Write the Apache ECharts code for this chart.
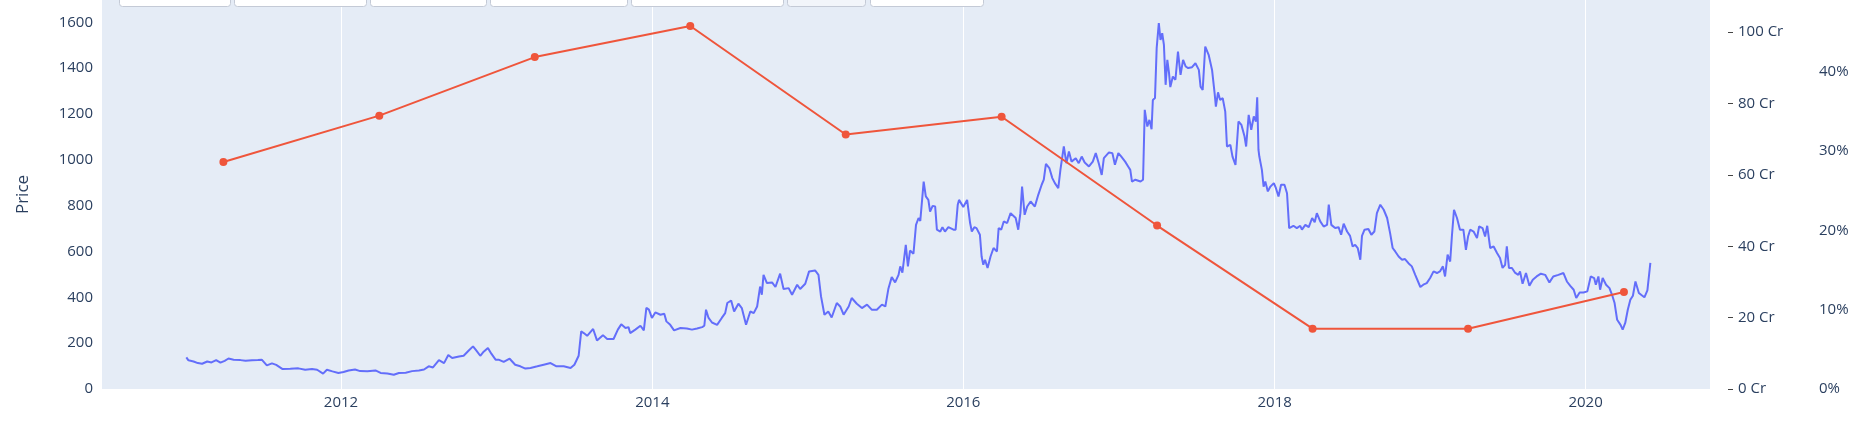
<!DOCTYPE html>
<html>
<head>
<meta charset="utf-8">
<script src="https://cdn.jsdelivr.net/npm/echarts@6/dist/echarts.min.js"></script>
<style>
html,body{margin:0;padding:0;background:#fff;}
#chart{width:1868px;height:424px;}
</style>
</head>
<body>
<div id="chart"></div>
<script>
// ---- data ----
const priceDates = [
'2011-01-03','2011-01-08','2011-01-20','2011-01-30','2011-02-09','2011-02-21','2011-03-03','2011-03-14','2011-03-24','2011-04-03','2011-04-12','2011-04-24','2011-05-10','2011-05-22','2011-06-06','2011-06-20','2011-06-29','2011-07-11','2011-07-23','2011-08-02','2011-08-17','2011-09-04','2011-09-23','2011-10-09','2011-10-25','2011-11-06','2011-11-20','2011-11-29','2011-12-12','2011-12-26',
'2012-01-07','2012-01-19','2012-02-03','2012-02-15','2012-03-03','2012-03-22','2012-04-03','2012-04-19','2012-05-04','2012-05-16','2012-06-01','2012-06-16','2012-07-02','2012-07-14','2012-07-25','2012-08-04','2012-08-18','2012-08-30','2012-09-09','2012-09-18','2012-10-04','2012-10-15','2012-10-27','2012-11-06','2012-11-14','2012-11-23','2012-12-01','2012-12-11','2012-12-19','2012-12-29',
'2013-01-05','2013-01-17','2013-01-31','2013-02-13','2013-02-25','2013-03-09','2013-03-21','2013-04-06','2013-04-21','2013-05-07','2013-05-21','2013-06-07','2013-06-23','2013-07-02','2013-07-12','2013-07-18','2013-07-24','2013-08-01','2013-08-15','2013-08-24','2013-09-07','2013-09-17','2013-10-02','2013-10-12','2013-10-20','2013-10-30','2013-11-06','2013-11-10','2013-11-22','2013-12-04','2013-12-12','2013-12-18','2013-12-24','2013-12-31',
'2014-01-08','2014-01-20','2014-01-29','2014-02-03','2014-02-12','2014-02-21','2014-03-08','2014-03-23','2014-04-04','2014-04-16','2014-04-28','2014-05-03','2014-05-07','2014-05-13','2014-05-21','2014-06-02','2014-06-13','2014-06-21','2014-06-26','2014-07-05','2014-07-12','2014-07-22','2014-07-30','2014-08-09','2014-08-19','2014-08-27','2014-09-04','2014-09-11','2014-09-15','2014-09-19','2014-09-27','2014-10-09','2014-10-17','2014-10-28','2014-11-05','2014-11-17','2014-11-25','2014-12-07','2014-12-14','2014-12-26',
'2015-01-04','2015-01-18','2015-01-26','2015-02-01','2015-02-09','2015-02-18','2015-02-26','2015-03-10','2015-03-18','2015-03-26','2015-04-07','2015-04-14','2015-04-26','2015-05-08','2015-05-20','2015-05-31','2015-06-12','2015-06-24','2015-07-02','2015-07-09','2015-07-17','2015-07-25','2015-08-02','2015-08-06','2015-08-11','2015-08-19','2015-08-24','2015-08-29','2015-09-06','2015-09-12','2015-09-18','2015-09-22','2015-09-30','2015-10-05','2015-10-11','2015-10-15','2015-10-21','2015-10-27','2015-10-31','2015-11-08','2015-11-13','2015-11-19','2015-11-27','2015-12-09','2015-12-14','2015-12-19','2015-12-22',
'2016-01-01','2016-01-05','2016-01-10','2016-01-17','2016-01-21','2016-01-27','2016-02-01','2016-02-09','2016-02-13','2016-02-17','2016-02-21','2016-02-27','2016-03-05','2016-03-12','2016-03-20','2016-03-24','2016-03-30','2016-04-05','2016-04-13','2016-04-21','2016-05-03','2016-05-09','2016-05-14','2016-05-18','2016-05-24','2016-05-30','2016-06-07','2016-06-17','2016-06-25','2016-07-03','2016-07-08','2016-07-13','2016-07-21','2016-07-28','2016-08-03','2016-08-11','2016-08-16','2016-08-24','2016-08-30','2016-09-05','2016-09-11','2016-09-21','2016-09-28','2016-10-05','2016-10-12','2016-10-22','2016-10-31','2016-11-07','2016-11-14','2016-11-21','2016-11-26','2016-12-08','2016-12-16','2016-12-22','2016-12-30',
'2017-01-06','2017-01-15','2017-01-22','2017-01-27','2017-01-31','2017-02-08','2017-02-20','2017-02-26','2017-03-02','2017-03-08','2017-03-13','2017-03-18','2017-03-21','2017-03-26','2017-03-30','2017-04-04','2017-04-08','2017-04-12','2017-04-16','2017-04-20','2017-04-24','2017-04-28','2017-05-01','2017-05-07','2017-05-13','2017-05-19','2017-05-25','2017-05-31','2017-06-06','2017-06-12','2017-06-21','2017-06-29','2017-07-07','2017-07-11','2017-07-16','2017-07-22','2017-07-30','2017-08-07','2017-08-13','2017-08-16','2017-08-21','2017-08-26','2017-09-01','2017-09-07','2017-09-11','2017-09-19','2017-09-24','2017-10-01','2017-10-08','2017-10-15','2017-10-22','2017-10-26','2017-11-01','2017-11-07','2017-11-13','2017-11-18','2017-11-21','2017-11-24','2017-11-26','2017-12-02','2017-12-06','2017-12-10','2017-12-16','2017-12-22','2017-12-30',
'2018-01-04','2018-01-10','2018-01-16','2018-01-24','2018-01-30','2018-02-04','2018-02-14','2018-02-22','2018-03-02','2018-03-06','2018-03-14','2018-03-22','2018-03-30','2018-04-05','2018-04-10','2018-04-18','2018-04-26','2018-05-04','2018-05-08','2018-05-14','2018-05-23','2018-05-31','2018-06-06','2018-06-12','2018-06-20','2018-06-27','2018-07-03','2018-07-09','2018-07-15','2018-07-21','2018-07-25','2018-07-31','2018-08-09','2018-08-16','2018-08-23','2018-08-29','2018-09-06','2018-09-14','2018-09-22','2018-09-29','2018-10-05','2018-10-11','2018-10-19','2018-10-27','2018-11-03','2018-11-11','2018-11-19','2018-11-27','2018-12-09','2018-12-16','2018-12-24',
'2019-01-01','2019-01-09','2019-01-17','2019-01-24','2019-01-31','2019-02-05','2019-02-11','2019-02-17','2019-02-21','2019-02-26','2019-03-05','2019-03-12','2019-03-20','2019-03-26','2019-03-31','2019-04-05','2019-04-13','2019-04-21','2019-04-26','2019-05-04','2019-05-10','2019-05-15','2019-05-22','2019-05-30','2019-06-07','2019-06-14','2019-06-20','2019-06-26','2019-06-30','2019-07-05','2019-07-12','2019-07-19','2019-07-27','2019-07-31','2019-08-06','2019-08-14','2019-08-22','2019-08-30','2019-09-08','2019-09-18','2019-09-28','2019-10-08','2019-10-17','2019-10-29','2019-11-10','2019-11-18','2019-11-26','2019-12-04','2019-12-10','2019-12-18','2019-12-27',
'2020-01-05','2020-01-13','2020-01-21','2020-01-25','2020-01-31','2020-02-04','2020-02-10','2020-02-18','2020-02-26','2020-03-03','2020-03-09','2020-03-15','2020-03-23','2020-03-28','2020-04-03','2020-04-09','2020-04-15','2020-04-21','2020-04-27','2020-05-05','2020-05-11','2020-05-18','2020-05-25','2020-06-01'
];
const priceValues = [
138,125,120,113,110,120,116,126,115,123,133,128,126,123,125,126,128,103,112,105,87,88,90,84,87,84,67,84,77,70,
74,81,85,78,77,81,70,68,62,70,71,78,81,85,99,94,126,113,148,135,142,145,168,186,167,145,163,179,154,128,
128,118,132,106,99,89,92,99,106,113,99,99,92,106,145,251,244,232,262,212,235,218,218,259,282,266,270,244,259,276,256,354,346,310,
334,324,328,295,280,256,266,264,259,264,270,276,346,310,290,280,310,331,375,386,338,372,353,280,338,331,360,447,411,498,462,465,445,503,436,440,411,455,436,459,
513,517,498,404,324,338,312,375,360,324,360,397,372,353,368,346,346,368,360,436,488,465,498,535,508,629,535,604,590,716,746,733,905,840,825,774,799,796,695,687,706,687,706,695,695,804,825,
794,796,825,724,687,706,702,673,578,542,564,528,578,615,600,702,695,731,724,767,746,695,767,883,760,796,818,796,847,891,913,982,964,920,898,876,956,1058,985,1036,992,1007,985,1014,988,971,992,1029,985,934,1007,1032,1029,978,1029,
1014,992,971,956,905,913,905,913,1218,1145,1174,1133,1261,1269,1487,1596,1523,1552,1501,1327,1436,1378,1317,1363,1349,1472,1370,1436,1407,1400,1404,1421,1392,1319,1305,1494,1458,1392,1291,1232,1294,1261,1269,1210,1058,1065,1014,978,1167,1152,1104,1058,1196,1131,1189,1167,1273,1043,1014,956,883,905,862,883,898,
876,840,891,891,854,702,712,702,712,695,716,706,746,727,767,731,709,716,804,716,702,706,673,721,687,668,622,629,615,564,668,695,698,673,687,767,804,782,746,680,615,600,578,564,567,549,535,498,445,455,462,
484,513,506,513,535,491,586,556,665,782,746,695,695,607,665,695,687,658,709,702,665,712,615,622,593,571,528,542,622,528,528,508,498,513,459,506,450,477,491,503,498,465,491,498,506,469,450,433,397,421,421,
426,491,484,455,491,433,484,455,440,411,375,302,280,259,288,346,389,407,469,419,410,400,430,550
];
const metricDates = ['2011-03-31','2012-03-31','2013-03-31','2014-03-31','2015-03-31','2016-03-31','2017-03-31','2018-03-31','2019-03-31','2020-03-31'];
const metricValues = [63.6, 76.6, 93.0, 101.7, 71.3, 76.3, 45.8, 16.9, 16.9, 27.2];
const yearTicks = ['2012-01-01','2014-01-01','2016-01-01','2018-01-01','2020-01-01'];
const priceTicks = [0,200,400,600,800,1000,1200,1400,1600];
const crTicks = [0,20,40,60,80,100];
const pctTicks = [0,10,20,30,40];

// ---- layout constants ----
const buttonSpans = [[119,230],[234,366],[370,486],[490,627],[631,783],[787,865],[870,983]];
const FONT = '"Open Sans", verdana, arial, sans-serif';
const TXT = '#2a3f5f';
const FS = 15;

const chart = echarts.init(document.getElementById('chart'), null, {renderer: 'canvas'});
const ts = s => echarts.number.parseDate(s).getTime();
const yearTickTs = yearTicks.map(ts);

const option = {
  animation: false,
  backgroundColor: '#ffffff',
  grid: {left: 102, right: 158, top: 0, bottom: 35, show: true, backgroundColor: '#E5ECF6', borderWidth: 0},
  xAxis: {
    type: 'value',
    min: ts('2010-06-19'),
    max: ts('2020-10-19'),
    axisLine: {show: false},
    axisTick: {show: false, customValues: yearTickTs},
    axisLabel: {
      customValues: yearTickTs,
      formatter: v => String(new Date(v).getFullYear()),
      color: TXT, fontFamily: FONT, fontSize: FS, margin: 6
    },
    splitLine: {show: true, lineStyle: {color: '#ffffff', width: 1}}
  },
  yAxis: [
    {
      type: 'value', position: 'left', min: 0, max: 1697,
      name: 'Price', nameLocation: 'middle', nameGap: 70,
      nameTextStyle: {color: TXT, fontFamily: FONT, fontSize: 17},
      axisLine: {show: false},
      axisTick: {show: false, customValues: priceTicks},
      axisLabel: {customValues: priceTicks, formatter: v => String(v), color: TXT, fontFamily: FONT, fontSize: FS, margin: 9},
      splitLine: {show: false}
    },
    {
      type: 'value', position: 'right', offset: 18, min: 0, max: 109,
      axisLine: {show: false},
      axisTick: {show: true, customValues: crTicks, length: 5, lineStyle: {color: '#444', width: 1}},
      axisLabel: {customValues: crTicks, formatter: v => v + ' Cr', color: TXT, fontFamily: FONT, fontSize: FS, margin: 10},
      splitLine: {show: false}
    },
    {
      type: 'value', position: 'right', offset: 100, min: 0, max: 49.03,
      axisLine: {show: false},
      axisTick: {show: false, customValues: pctTicks},
      axisLabel: {customValues: pctTicks, formatter: v => v + '%', color: TXT, fontFamily: FONT, fontSize: FS, margin: 9},
      splitLine: {show: false}
    }
  ],
  series: [
    {
      name: 'Price', type: 'line', xAxisIndex: 0, yAxisIndex: 0,
      data: priceDates.map((d, i) => [ts(d), priceValues[i]]),
      showSymbol: false, symbol: 'none',
      lineStyle: {color: '#636EFA', width: 2},
      itemStyle: {color: '#636EFA'},
      z: 2
    },
    {
      name: 'Metric', type: 'line', xAxisIndex: 0, yAxisIndex: 1,
      data: metricDates.map((d, i) => [ts(d), metricValues[i]]),
      symbol: 'circle', symbolSize: 8, showSymbol: true,
      lineStyle: {color: '#EF553B', width: 2},
      itemStyle: {color: '#EF553B'},
      z: 3
    }
  ],
  graphic: buttonSpans.map((s, i) => ({
    type: 'rect',
    shape: {x: s[0] + 0.5, y: -20, width: s[1] - s[0], height: 26.5, r: 3},
    style: {fill: i === 5 ? '#F2F5FA' : '#FFFFFF', stroke: '#C4CAD6', lineWidth: 1},
    z: 100
  }))
};
chart.setOption(option);
</script>
</body>
</html>
